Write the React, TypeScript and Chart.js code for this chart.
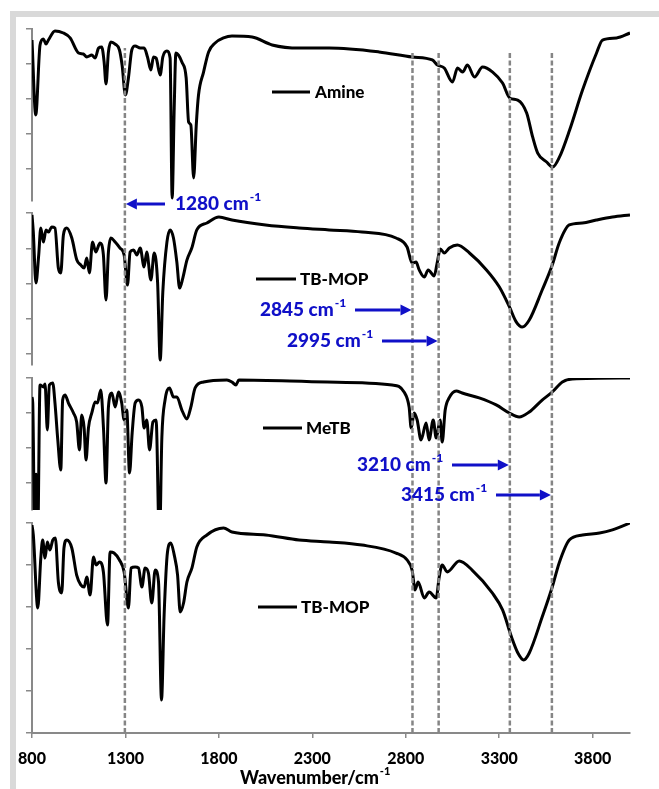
import React, { useEffect, useRef } from "react";
import { Chart, registerables } from "chart.js";
Chart.register(...registerables);

// ---------- data ----------
const xTickValues = [800, 1300, 1800, 2300, 2800, 3300, 3800];
const p1Ticks = [20, 40, 60, 80, 100];
const p2Ticks = [20, 40, 60, 80, 100];
const p3Ticks = [40, 60, 80, 100];
const p4Ticks = [0, 20, 40, 60, 80, 100];

const seriesNames = ["Amine", "TB-MOP", "MeTB", "TB-MOP"];

const amine: [number, number][] = [
  [800, 93.7], [820, 50.9], [843, 90.9], [861, 94.3], [875, 91.4], [888, 93.7], [923, 98.9], [968, 97.7],
  [1004, 94.9], [1049, 86.3], [1075, 85.7], [1093, 84.0], [1120, 85.1], [1138, 83.4], [1156, 89.1], [1173, 89.7],
  [1186, 81.1], [1196, 68.6], [1209, 86.9], [1222, 92.6], [1245, 91.4], [1268, 88.0], [1282, 79.4], [1300, 62.3],
  [1316, 72.0], [1334, 88.0], [1352, 90.3], [1379, 89.1], [1400, 89.1], [1418, 84.0], [1436, 76.6], [1450, 84.0],
  [1464, 83.4], [1486, 73.7], [1500, 84.0], [1522, 87.4], [1539, 83.4], [1550, 3.4], [1561, 54.9], [1570, 86.3],
  [1584, 85.1], [1602, 81.1], [1625, 72.0], [1638, 46.9], [1650, 45.1], [1665, 14.9], [1679, 45.1], [1691, 62.3],
  [1718, 75.4], [1745, 86.9], [1780, 92.0], [1825, 94.9], [1870, 96.0], [1978, 95.4], [2085, 90.9], [2230, 89.1],
  [2390, 89.1], [2657, 86.9], [2835, 84.0], [2942, 82.3], [2970, 79.4], [3006, 77.7], [3050, 69.7], [3077, 77.7],
  [3104, 75.4], [3130, 79.4], [3168, 72.6], [3211, 78.3], [3265, 75.4], [3318, 69.1], [3356, 60.6], [3399, 59.4],
  [3447, 52.0], [3479, 38.3], [3506, 29.1], [3554, 24.0], [3586, 21.1], [3623, 26.9], [3677, 42.3], [3746, 65.1],
  [3821, 86.3], [3853, 93.7], [3928, 94.9], [4000, 97.7],
];

const tbmopTop: [number, number][] = [
  [800, 98.9], [807, 89.2], [821, 60.3], [836, 76.2], [847, 91.5], [861, 83.5], [875, 90.4], [889, 89.2],
  [905, 92.1], [923, 91.5], [941, 68.8], [954, 66.0], [968, 87.5], [986, 91.5], [1013, 85.8], [1040, 73.3],
  [1061, 70.5], [1079, 68.8], [1093, 74.5], [1107, 66.0], [1124, 83.5], [1141, 77.9], [1164, 83.0], [1182, 76.2],
  [1196, 50.6], [1209, 77.9], [1222, 85.8], [1245, 83.5], [1271, 80.1], [1293, 76.2], [1311, 59.1], [1325, 77.9],
  [1343, 79.0], [1361, 76.2], [1379, 80.1], [1400, 69.4], [1414, 77.9], [1436, 62.0], [1454, 77.3], [1472, 60.8],
  [1486, 16.6], [1500, 55.2], [1522, 83.5], [1539, 90.4], [1557, 85.8], [1575, 72.2], [1590, 57.4], [1607, 63.1],
  [1629, 73.3], [1655, 80.1], [1682, 90.4], [1736, 94.3], [1800, 97.7], [1870, 96.0], [2050, 93.2], [2229, 91.5],
  [2390, 90.4], [2566, 89.2], [2748, 85.8], [2807, 80.7], [2834, 71.6], [2855, 72.2], [2872, 67.7], [2899, 63.7],
  [2920, 67.7], [2952, 64.3], [2968, 71.6], [2985, 79.6], [3006, 77.3], [3033, 80.1], [3076, 81.8], [3141, 77.3],
  [3232, 67.7], [3301, 58.0], [3355, 46.7], [3391, 38.2], [3423, 35.3], [3461, 39.3], [3530, 56.3], [3584, 70.5],
  [3621, 83.0], [3675, 93.2], [3745, 94.3], [3820, 96.0], [3906, 97.7], [4000, 98.9],
];

const metb: [number, number][] = [
  [800, 89.1], [804, 85.7], [815, 5], [822, 45], [830, 5], [843, 96.0], [861, 94.9], [870, 96.6],
  [882, 70.3], [893, 96.0], [911, 97.1], [923, 85.7], [938, 64.6], [954, 47.4], [964, 87.4], [977, 90.3],
  [995, 85.7], [1022, 80.0], [1039, 74.9], [1054, 58.9], [1066, 78.9], [1079, 71.4], [1089, 53.1], [1102, 71.4],
  [1120, 80.0], [1138, 86.3], [1150, 85.7], [1168, 93.1], [1183, 70.3], [1196, 40.0], [1209, 83.4], [1227, 91.4],
  [1245, 83.4], [1263, 92.0], [1280, 85.7], [1293, 76.0], [1307, 81.7], [1322, 45.7], [1336, 68.6], [1352, 85.7],
  [1370, 87.4], [1388, 83.4], [1400, 71.4], [1414, 76.0], [1429, 58.9], [1447, 74.9], [1464, 76.0], [1482, 5],
  [1495, 66.3], [1512, 87.4], [1536, 94.3], [1557, 89.1], [1575, 89.1], [1602, 81.7], [1629, 76.6], [1650, 83.4],
  [1673, 94.3], [1718, 97.7], [1843, 98.9], [1870, 97.7], [1891, 96.0], [1907, 98.9], [2380, 97.7], [2727, 96.0],
  [2791, 92.0], [2818, 83.4], [2829, 71.4], [2845, 80.0], [2861, 76.0], [2882, 64.6], [2909, 74.3], [2925, 64.6],
  [2947, 76.0], [2963, 65.7], [2984, 76.0], [2995, 63.4], [3011, 81.7], [3032, 88.6], [3070, 92.6], [3102, 91.4],
  [3193, 88.6], [3284, 84.6], [3354, 80.0], [3407, 77.7], [3461, 80.6], [3530, 87.4], [3584, 92.0], [3638, 97.7],
  [3691, 99.4], [4000, 100],
];

const tbmopBottom: [number, number][] = [
  [800, 99.0], [807, 94.3], [831, 59.5], [847, 83.3], [857, 91.9], [870, 83.3], [882, 91.0], [896, 87.1],
  [911, 91.9], [925, 92.9], [941, 71.9], [959, 66.7], [971, 88.1], [986, 91.9], [1013, 88.1], [1039, 75.2],
  [1061, 70.5], [1079, 69.5], [1093, 74.3], [1111, 65.7], [1129, 83.8], [1143, 80.0], [1161, 81.4], [1182, 76.7],
  [1204, 51.4], [1218, 86.2], [1239, 85.7], [1268, 82.4], [1293, 76.7], [1316, 59.5], [1330, 78.6], [1352, 79.0],
  [1370, 78.6], [1388, 69.5], [1405, 78.6], [1423, 76.2], [1441, 61.9], [1459, 77.6], [1477, 71.9], [1493, 15.7],
  [1507, 56.2], [1525, 86.2], [1543, 90.5], [1561, 84.8], [1579, 75.2], [1593, 57.6], [1611, 61.9], [1629, 71.9],
  [1656, 78.6], [1682, 88.6], [1736, 94.3], [1825, 97.6], [1870, 95.7], [2050, 94.3], [2229, 91.9], [2390, 91.0],
  [2566, 89.5], [2748, 85.7], [2807, 82.4], [2834, 77.6], [2850, 68.1], [2866, 71.9], [2899, 64.3], [2925, 67.1],
  [2963, 64.3], [2979, 74.3], [2995, 80.0], [3022, 76.7], [3086, 81.9], [3155, 77.6], [3263, 66.7], [3318, 58.6],
  [3366, 45.7], [3400, 38.1], [3431, 34.8], [3461, 38.1], [3530, 55.2], [3584, 69.5], [3621, 81.0], [3675, 91.9],
  [3746, 94.3], [3837, 95.2], [3906, 96.7], [4000, 100],
];

// dashed marker lines (wavenumber where drawn, top of line on full-height 0-100 scale)
const markerWavenumbers = [1297, 2836, 2976, 3357, 3582];
const markerTops = [97.3, 96.7, 96.7, 96.7, 96.7];
const annotationLabels = ["1280 cm", "2845 cm", "2995 cm", "3210 cm", "3415 cm"];

// ---------- layout/style ----------
const AXIS = "#898989";
const BLUE = "#1010c8";
const FONT = "Lato, 'Open Sans', sans-serif";

const legendLayout = [
  { x0: 272, x1: 310, tx: 315, y: 92 },
  { x0: 256, x1: 296, tx: 300, y: 279 },
  { x0: 263, x1: 302, tx: 306, y: 428 },
  { x0: 258, x1: 297, tx: 301, y: 607 },
];
const annotationLayout = [
  { dir: "left", y: 204, textX: 175, tailX: 165 },
  { dir: "right", y: 310, textX: 260, tailX: 355 },
  { dir: "right", y: 341, textX: 287, tailX: 382 },
  { dir: "right", y: 465, textX: 357, tailX: 452 },
  { dir: "right", y: 495, textX: 401, tailX: 496 },
];

function drawSup(ctx: CanvasRenderingContext2D, x: number, y: number, base: string, sup: string, size: number, color: string, weight: string) {
  ctx.fillStyle = color;
  ctx.textBaseline = "middle";
  ctx.textAlign = "left";
  ctx.font = `${weight} ${size}px ${FONT}`;
  ctx.fillText(base, x, y);
  const w = ctx.measureText(base).width;
  ctx.font = `${weight} ${Math.round(size * 0.62)}px ${FONT}`;
  ctx.fillText(sup, x + w + 1, y - size * 0.36);
}

function drawArrow(ctx: CanvasRenderingContext2D, x0: number, x1: number, y: number) {
  const dir = Math.sign(x1 - x0);
  const head = 11;
  ctx.strokeStyle = BLUE;
  ctx.fillStyle = BLUE;
  ctx.lineWidth = 3;
  ctx.beginPath();
  ctx.moveTo(x0, y);
  ctx.lineTo(x1 - dir * head, y);
  ctx.stroke();
  ctx.beginPath();
  ctx.moveTo(x1, y);
  ctx.lineTo(x1 - dir * head, y - 5.5);
  ctx.lineTo(x1 - dir * head, y + 5.5);
  ctx.closePath();
  ctx.fill();
}

const panelClip = {
  id: "panelClip",
  beforeDatasetDraw(chart: any, args: any) {
    const ys = args.meta.yScale;
    if (!ys || !String(ys.id).startsWith("p")) return;
    const ctx = chart.ctx;
    const ca = chart.chartArea;
    ctx.save();
    ctx.beginPath();
    ctx.rect(ca.left, ys.top - 3, ca.right - ca.left, ys.bottom - ys.top + 3);
    ctx.clip();
  },
  afterDatasetDraw(chart: any, args: any) {
    const ys = args.meta.yScale;
    if (!ys || !String(ys.id).startsWith("p")) return;
    chart.ctx.restore();
  },
};

const textLayer = {
  id: "textLayer",
  afterDraw(chart: any) {
    const ctx: CanvasRenderingContext2D = chart.ctx;
    const xs = chart.scales.x;
    ctx.save();
    seriesNames.forEach((name, i) => {
      const L = legendLayout[i];
      ctx.strokeStyle = "#000";
      ctx.lineWidth = 3;
      ctx.beginPath();
      ctx.moveTo(L.x0, L.y);
      ctx.lineTo(L.x1, L.y);
      ctx.stroke();
      ctx.fillStyle = "#000";
      ctx.font = `900 17px ${FONT}`;
      ctx.textBaseline = "middle";
      ctx.textAlign = "left";
      ctx.fillText(name, L.tx, L.y + 1);
    });
    annotationLabels.forEach((label, i) => {
      const A = annotationLayout[i];
      const mx = xs.getPixelForValue(markerWavenumbers[i]);
      drawSup(ctx, A.textX, A.y, label, "-1", 19, BLUE, "900");
      const tip = A.dir === "left" ? mx + 1 : mx - 1;
      drawArrow(ctx, A.tailX, tip, A.y);
    });
    drawSup(ctx, 240, 778, "Wavenumber/cm", "-1", 18, "#000", "900");
    ctx.restore();
  },
};

function panelScale(min: number, ticks: number[], weight: number, stackWeight: number) {
  return {
    type: "linear",
    position: "left",
    stack: "ir",
    stackWeight,
    weight,
    min,
    max: 100,
    bounds: "data",
    afterBuildTicks: (s: any) => {
      s.ticks = ticks.map((v) => ({ value: v }));
    },
    afterFit: (s: any) => {
      s.width = 6;
      s.paddingTop = 0;
      s.paddingBottom = 0;
    },
    grid: { display: true, drawOnChartArea: false, drawTicks: true, tickLength: 6, color: AXIS, lineWidth: 1.5 },
    border: { display: true, color: AXIS, width: 2 },
    ticks: { display: false },
  };
}

function gapScale(weight: number, stackWeight: number) {
  return {
    type: "linear",
    position: "left",
    stack: "ir",
    stackWeight,
    weight,
    display: true,
    afterFit: (s: any) => {
      s.width = 0;
      s.paddingTop = 0;
      s.paddingBottom = 0;
    },
    grid: { display: false },
    border: { display: false },
    ticks: { display: false },
  };
}

export default function App() {
  const ref = useRef<HTMLCanvasElement | null>(null);
  useEffect(() => {
    if (!ref.current) return;
    Chart.defaults.font.family = FONT;
    const spectra = [amine, tbmopTop, metb, tbmopBottom];
    const datasets: any[] = spectra.map((s, i) => ({
      label: seriesNames[i],
      data: s.map(([x, y]) => ({ x, y })),
      yAxisID: "p" + (i + 1),
      borderColor: "#000",
      backgroundColor: "#000",
      borderWidth: 3,
      borderJoinStyle: "round",
      pointRadius: 0,
      showLine: true,
      cubicInterpolationMode: "monotone",
      order: 1,
    }));
    markerWavenumbers.forEach((w, i) => {
      datasets.push({
        label: "marker" + i,
        data: [
          { x: w, y: 0 },
          { x: w, y: markerTops[i] },
        ],
        yAxisID: "yAll",
        borderColor: "#858585",
        borderWidth: 2.5,
        borderDash: [5, 2.5],
        pointRadius: 0,
        showLine: true,
        order: 0,
      });
    });
    const chart = new Chart(ref.current, {
      type: "scatter",
      data: { datasets },
      options: {
        responsive: false,
        animation: false,
        devicePixelRatio: 1,
        layout: { padding: { left: 26, right: 29, top: 29, bottom: 6 } },
        plugins: { legend: { display: false }, tooltip: { enabled: false } },
        scales: {
          x: {
            type: "linear",
            position: "bottom",
            min: 800,
            max: 4000,
            bounds: "data",
            afterBuildTicks: (s: any) => {
              s.ticks = xTickValues.map((v) => ({ value: v }));
            },
            afterFit: (s: any) => {
              s.height = 50;
              s.paddingLeft = 0;
              s.paddingRight = 0;
            },
            grid: { display: true, drawOnChartArea: false, drawTicks: true, tickLength: 5, color: AXIS, lineWidth: 1.5 },
            border: { display: true, color: AXIS, width: 2 },
            ticks: {
              color: "#000",
              font: { size: 16, weight: "900", family: FONT },
              padding: 11,
              maxRotation: 0,
              autoSkip: false,
              callback: (v: any) => String(v),
            },
          },
          p1: panelScale(1.71, p1Ticks, 7, 172),
          g1: gapScale(6, 12),
          p2: panelScale(13.76, p2Ticks, 5, 152),
          g2: gapScale(4, 13),
          p3: panelScale(24.57, p3Ticks, 3, 132),
          g3: gapScale(2, 13),
          p4: panelScale(0, p4Ticks, 1, 210),
          yAll: { type: "linear", position: "left", display: false, min: 0, max: 100 },
        } as any,
      },
      plugins: [panelClip, textLayer],
    } as any);
    return () => chart.destroy();
  }, []);

  return (
    <div style={{ position: "fixed", left: 0, top: 0, width: 659, height: 789, overflow: "hidden", background: "#fff" }}>
      <div
        style={{
          position: "absolute",
          left: 10,
          top: 11,
          width: 720,
          height: 820,
          borderTop: "6px solid #d9d9d9",
          borderLeft: "6px solid #d9d9d9",
        }}
      />
      <canvas ref={ref} width={659} height={789} style={{ position: "absolute", left: 0, top: 0 }} />
    </div>
  );
}
